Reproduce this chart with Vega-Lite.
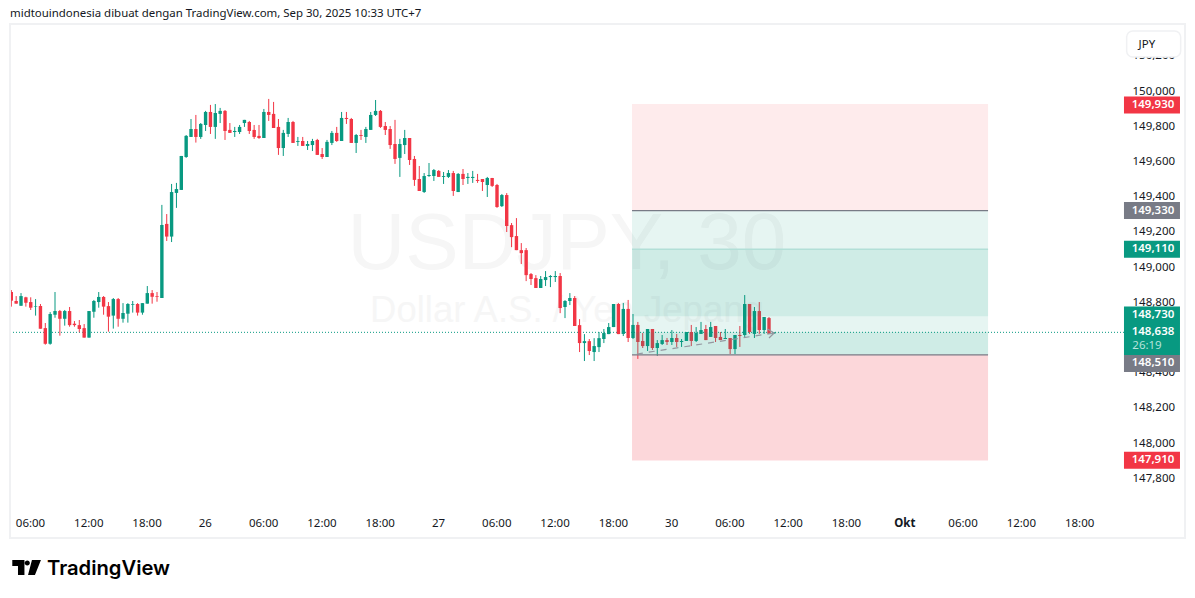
{
  "$schema": "https://vega.github.io/schema/vega-lite/v6.json",
  "width": 1114,
  "height": 486,
  "autosize": {"type": "none"},
  "padding": {"left": 10, "top": 25, "right": 71, "bottom": 87},
  "background": "#ffffff",
  "view": {"stroke": null},
  "title": {"text": "midtouindonesia dibuat dengan TradingView.com, Sep 30, 2025 10:33 UTC+7", "anchor": "start", "frame": "group", "offset": 3, "font": "Noto Sans", "fontSize": 11.45, "fontWeight": "normal", "color": "#131722"},
  "config": {
    "font": "Noto Sans",
    "scale": {"continuousPadding": 0},
    "axis": {"grid": false, "domain": false, "ticks": false, "title": null, "labelFontSize": 11.5, "labelColor": "#131722", "labelOverlap": false, "labelFlush": false, "labelFont": "Noto Sans"}
  },
  "datasets": {
    "candles": [
      {"i":1,"o":148.867,"h":148.878,"l":148.784,"c":148.818},
      {"i":2,"o":148.816,"h":148.844,"l":148.801,"c":148.801},
      {"i":3,"o":148.789,"h":148.861,"l":148.789,"c":148.844},
      {"i":4,"o":148.837,"h":148.840,"l":148.784,"c":148.806},
      {"i":5,"o":148.810,"h":148.837,"l":148.765,"c":148.778},
      {"i":6,"o":148.784,"h":148.827,"l":148.733,"c":148.787},
      {"i":7,"o":148.787,"h":148.799,"l":148.659,"c":148.659},
      {"i":8,"o":148.662,"h":148.691,"l":148.568,"c":148.573},
      {"i":9,"o":148.573,"h":148.753,"l":148.568,"c":148.742},
      {"i":10,"o":148.738,"h":148.867,"l":148.721,"c":148.759},
      {"i":11,"o":148.759,"h":148.765,"l":148.619,"c":148.715},
      {"i":12,"o":148.715,"h":148.765,"l":148.676,"c":148.759},
      {"i":13,"o":148.759,"h":148.782,"l":148.670,"c":148.679},
      {"i":14,"o":148.687,"h":148.702,"l":148.670,"c":148.679},
      {"i":15,"o":148.679,"h":148.708,"l":148.638,"c":148.657},
      {"i":16,"o":148.662,"h":148.685,"l":148.608,"c":148.608},
      {"i":17,"o":148.608,"h":148.759,"l":148.608,"c":148.759},
      {"i":18,"o":148.755,"h":148.822,"l":148.721,"c":148.816},
      {"i":19,"o":148.810,"h":148.867,"l":148.778,"c":148.839},
      {"i":20,"o":148.839,"h":148.844,"l":148.738,"c":148.784},
      {"i":21,"o":148.787,"h":148.810,"l":148.642,"c":148.727},
      {"i":22,"o":148.733,"h":148.833,"l":148.659,"c":148.827},
      {"i":23,"o":148.827,"h":148.833,"l":148.670,"c":148.715},
      {"i":24,"o":148.715,"h":148.804,"l":148.693,"c":148.748},
      {"i":25,"o":148.744,"h":148.804,"l":148.693,"c":148.799},
      {"i":26,"o":148.795,"h":148.816,"l":148.750,"c":148.799},
      {"i":27,"o":148.799,"h":148.804,"l":148.733,"c":148.750},
      {"i":28,"o":148.750,"h":148.804,"l":148.738,"c":148.804},
      {"i":29,"o":148.801,"h":148.901,"l":148.801,"c":148.861},
      {"i":30,"o":148.861,"h":148.878,"l":148.801,"c":148.840},
      {"i":31,"o":148.844,"h":148.867,"l":148.812,"c":148.840},
      {"i":32,"o":148.833,"h":149.362,"l":148.833,"c":149.248},
      {"i":33,"o":149.254,"h":149.310,"l":149.157,"c":149.182},
      {"i":34,"o":149.182,"h":149.481,"l":149.151,"c":149.435},
      {"i":35,"o":149.430,"h":149.487,"l":149.345,"c":149.452},
      {"i":36,"o":149.447,"h":149.640,"l":149.447,"c":149.640},
      {"i":37,"o":149.634,"h":149.759,"l":149.629,"c":149.754},
      {"i":38,"o":149.748,"h":149.850,"l":149.748,"c":149.793},
      {"i":39,"o":149.793,"h":149.873,"l":149.716,"c":149.748},
      {"i":40,"o":149.748,"h":149.827,"l":149.737,"c":149.822},
      {"i":41,"o":149.816,"h":149.896,"l":149.782,"c":149.890},
      {"i":42,"o":149.890,"h":149.930,"l":149.765,"c":149.805},
      {"i":43,"o":149.805,"h":149.935,"l":149.737,"c":149.884},
      {"i":44,"o":149.879,"h":149.913,"l":149.827,"c":149.896},
      {"i":45,"o":149.896,"h":149.901,"l":149.731,"c":149.782},
      {"i":46,"o":149.788,"h":149.827,"l":149.771,"c":149.771},
      {"i":47,"o":149.776,"h":149.805,"l":149.748,"c":149.782},
      {"i":48,"o":149.776,"h":149.816,"l":149.765,"c":149.805},
      {"i":49,"o":149.827,"h":149.845,"l":149.805,"c":149.845},
      {"i":50,"o":149.833,"h":149.839,"l":149.765,"c":149.782},
      {"i":51,"o":149.788,"h":149.816,"l":149.737,"c":149.748},
      {"i":52,"o":149.754,"h":149.816,"l":149.737,"c":149.742},
      {"i":53,"o":149.742,"h":149.907,"l":149.742,"c":149.890},
      {"i":54,"o":149.890,"h":149.964,"l":149.839,"c":149.873},
      {"i":55,"o":149.879,"h":149.947,"l":149.799,"c":149.799},
      {"i":56,"o":149.805,"h":149.850,"l":149.646,"c":149.685},
      {"i":57,"o":149.685,"h":149.788,"l":149.640,"c":149.771},
      {"i":58,"o":149.765,"h":149.856,"l":149.748,"c":149.833},
      {"i":59,"o":149.833,"h":149.839,"l":149.714,"c":149.714},
      {"i":60,"o":149.720,"h":149.748,"l":149.697,"c":149.725},
      {"i":61,"o":149.725,"h":149.748,"l":149.697,"c":149.697},
      {"i":62,"o":149.697,"h":149.725,"l":149.674,"c":149.708},
      {"i":63,"o":149.702,"h":149.737,"l":149.668,"c":149.725},
      {"i":64,"o":149.731,"h":149.737,"l":149.646,"c":149.646},
      {"i":65,"o":149.651,"h":149.685,"l":149.623,"c":149.634},
      {"i":66,"o":149.634,"h":149.731,"l":149.634,"c":149.720},
      {"i":67,"o":149.714,"h":149.782,"l":149.702,"c":149.771},
      {"i":68,"o":149.771,"h":149.805,"l":149.720,"c":149.725},
      {"i":69,"o":149.725,"h":149.890,"l":149.725,"c":149.856},
      {"i":70,"o":149.856,"h":149.890,"l":149.822,"c":149.850},
      {"i":71,"o":149.850,"h":149.856,"l":149.714,"c":149.714},
      {"i":72,"o":149.714,"h":149.765,"l":149.657,"c":149.759},
      {"i":73,"o":149.759,"h":149.788,"l":149.731,"c":149.754},
      {"i":74,"o":149.748,"h":149.805,"l":149.714,"c":149.793},
      {"i":75,"o":149.788,"h":149.890,"l":149.788,"c":149.873},
      {"i":76,"o":149.873,"h":149.958,"l":149.867,"c":149.896},
      {"i":77,"o":149.896,"h":149.901,"l":149.799,"c":149.805},
      {"i":78,"o":149.810,"h":149.833,"l":149.759,"c":149.788},
      {"i":79,"o":149.793,"h":149.810,"l":149.680,"c":149.702},
      {"i":80,"o":149.708,"h":149.845,"l":149.595,"c":149.623},
      {"i":81,"o":149.629,"h":149.737,"l":149.521,"c":149.708},
      {"i":82,"o":149.702,"h":149.788,"l":149.651,"c":149.742},
      {"i":83,"o":149.742,"h":149.742,"l":149.589,"c":149.617},
      {"i":84,"o":149.623,"h":149.640,"l":149.470,"c":149.504},
      {"i":85,"o":149.509,"h":149.583,"l":149.441,"c":149.441},
      {"i":86,"o":149.435,"h":149.543,"l":149.430,"c":149.526},
      {"i":87,"o":149.526,"h":149.600,"l":149.521,"c":149.532},
      {"i":88,"o":149.526,"h":149.566,"l":149.498,"c":149.560},
      {"i":89,"o":149.555,"h":149.560,"l":149.521,"c":149.521},
      {"i":90,"o":149.521,"h":149.549,"l":149.481,"c":149.526},
      {"i":91,"o":149.521,"h":149.560,"l":149.515,"c":149.543},
      {"i":92,"o":149.543,"h":149.555,"l":149.413,"c":149.441},
      {"i":93,"o":149.435,"h":149.543,"l":149.435,"c":149.538},
      {"i":94,"o":149.538,"h":149.566,"l":149.475,"c":149.509},
      {"i":95,"o":149.515,"h":149.543,"l":149.481,"c":149.521},
      {"i":96,"o":149.515,"h":149.555,"l":149.487,"c":149.521},
      {"i":97,"o":149.504,"h":149.538,"l":149.487,"c":149.498},
      {"i":98,"o":149.509,"h":149.509,"l":149.441,"c":149.492},
      {"i":99,"o":149.475,"h":149.521,"l":149.407,"c":149.515},
      {"i":100,"o":149.515,"h":149.515,"l":149.464,"c":149.470},
      {"i":101,"o":149.475,"h":149.481,"l":149.345,"c":149.350},
      {"i":102,"o":149.355,"h":149.424,"l":149.350,"c":149.418},
      {"i":103,"o":149.418,"h":149.429,"l":149.208,"c":149.242},
      {"i":104,"o":149.247,"h":149.259,"l":149.122,"c":149.179},
      {"i":105,"o":149.185,"h":149.287,"l":149.105,"c":149.105},
      {"i":106,"o":149.105,"h":149.145,"l":149.026,"c":149.088},
      {"i":107,"o":149.105,"h":149.117,"l":148.929,"c":148.963},
      {"i":108,"o":148.969,"h":148.975,"l":148.907,"c":148.941},
      {"i":109,"o":148.946,"h":148.963,"l":148.890,"c":148.890},
      {"i":110,"o":148.890,"h":148.958,"l":148.890,"c":148.941},
      {"i":111,"o":148.935,"h":148.986,"l":148.901,"c":148.952},
      {"i":112,"o":148.952,"h":148.963,"l":148.895,"c":148.958},
      {"i":113,"o":148.952,"h":148.986,"l":148.924,"c":148.958},
      {"i":114,"o":148.958,"h":148.975,"l":148.747,"c":148.776},
      {"i":115,"o":148.782,"h":148.821,"l":148.719,"c":148.816},
      {"i":116,"o":148.816,"h":148.861,"l":148.793,"c":148.833},
      {"i":117,"o":148.833,"h":148.844,"l":148.674,"c":148.674},
      {"i":118,"o":148.679,"h":148.713,"l":148.526,"c":148.577},
      {"i":119,"o":148.577,"h":148.628,"l":148.475,"c":148.588},
      {"i":120,"o":148.588,"h":148.600,"l":148.509,"c":148.532},
      {"i":121,"o":148.526,"h":148.605,"l":148.475,"c":148.560},
      {"i":122,"o":148.554,"h":148.640,"l":148.526,"c":148.605},
      {"i":123,"o":148.600,"h":148.657,"l":148.577,"c":148.634},
      {"i":124,"o":148.628,"h":148.691,"l":148.628,"c":148.668},
      {"i":125,"o":148.668,"h":148.799,"l":148.668,"c":148.799},
      {"i":126,"o":148.799,"h":148.804,"l":148.628,"c":148.628},
      {"i":127,"o":148.629,"h":148.805,"l":148.617,"c":148.771},
      {"i":128,"o":148.771,"h":148.822,"l":148.583,"c":148.606},
      {"i":129,"o":148.606,"h":148.742,"l":148.600,"c":148.680},
      {"i":130,"o":148.680,"h":148.697,"l":148.487,"c":148.583},
      {"i":131,"o":148.589,"h":148.634,"l":148.549,"c":148.560},
      {"i":132,"o":148.560,"h":148.657,"l":148.532,"c":148.657},
      {"i":133,"o":148.657,"h":148.657,"l":148.538,"c":148.549},
      {"i":134,"o":148.549,"h":148.594,"l":148.504,"c":148.577},
      {"i":135,"o":148.572,"h":148.623,"l":148.566,"c":148.594},
      {"i":136,"o":148.594,"h":148.606,"l":148.566,"c":148.583},
      {"i":137,"o":148.583,"h":148.651,"l":148.566,"c":148.606},
      {"i":138,"o":148.606,"h":148.629,"l":148.555,"c":148.583},
      {"i":139,"o":148.583,"h":148.600,"l":148.555,"c":148.589},
      {"i":140,"o":148.589,"h":148.640,"l":148.589,"c":148.640},
      {"i":141,"o":148.640,"h":148.680,"l":148.560,"c":148.589},
      {"i":142,"o":148.589,"h":148.668,"l":148.583,"c":148.634},
      {"i":143,"o":148.629,"h":148.697,"l":148.629,"c":148.651},
      {"i":144,"o":148.657,"h":148.680,"l":148.594,"c":148.594},
      {"i":145,"o":148.612,"h":148.697,"l":148.612,"c":148.668},
      {"i":146,"o":148.674,"h":148.674,"l":148.583,"c":148.606},
      {"i":147,"o":148.612,"h":148.640,"l":148.594,"c":148.594},
      {"i":148,"o":148.600,"h":148.657,"l":148.600,"c":148.606},
      {"i":149,"o":148.606,"h":148.606,"l":148.515,"c":148.543},
      {"i":150,"o":148.543,"h":148.623,"l":148.515,"c":148.623},
      {"i":151,"o":148.623,"h":148.674,"l":148.555,"c":148.617},
      {"i":152,"o":148.623,"h":148.850,"l":148.612,"c":148.799},
      {"i":153,"o":148.799,"h":148.799,"l":148.629,"c":148.640},
      {"i":154,"o":148.629,"h":148.782,"l":148.606,"c":148.759},
      {"i":155,"o":148.759,"h":148.810,"l":148.629,"c":148.651},
      {"i":156,"o":148.651,"h":148.725,"l":148.629,"c":148.725},
      {"i":157,"o":148.719,"h":148.725,"l":148.629,"c":148.629},
      {"i":158,"o":148.631,"h":148.640,"l":148.629,"c":148.638}
    ],
    "zones": [
      {"top":149.935,"bottom":149.33,"from":128.8,"to":202.1,"kind":"upper"},
      {"top":149.33,"bottom":148.51,"from":128.8,"to":202.1,"kind":"zone"},
      {"top":149.11,"bottom":148.73,"from":128.8,"to":202.1,"kind":"zone"},
      {"top":148.638,"bottom":148.51,"from":128.8,"to":202.1,"kind":"zone"},
      {"top":148.51,"bottom":147.91,"from":128.8,"to":202.1,"kind":"lower"}
    ],
    "levels": [
      {"price":149.33,"from":128.8,"to":202.1,"kind":"gray"},
      {"price":149.11,"from":128.8,"to":202.1,"kind":"pale"},
      {"price":148.51,"from":128.8,"to":202.1,"kind":"gray"}
    ],
    "tags": [
      {"label":"149,930","at":149.93,"kind":"red"},
      {"label":"149,330","at":149.33,"kind":"gray"},
      {"label":"149,110","at":149.11,"kind":"green"},
      {"label":"148,730","at":148.736,"kind":"green"},
      {"label":"148,510","at":148.461,"kind":"gray"},
      {"label":"147,910","at":147.912,"kind":"red"}
    ],
    "arrow": [
      {"i":156.7,"price":148.657},
      {"i":158.05,"price":148.634},
      {"i":157.0,"price":148.606}
    ]
  },
  "layer": [
    {
      "data": {"values": [{"i":115.4,"price":149.134,"label":"USDJPY, 30"}]},
      "mark": {"type":"text","font":"Liberation Sans","fontSize":80,"color":"#f6f6f6","baseline":"middle","align":"center"},
      "encoding": {
        "x": {"field":"i","type":"quantitative","scale":{"domain":[0.732,230.09]},"title":null,
          "axis":{"values":[4.85,16.85,28.85,40.85,52.85,64.85,76.85,88.85,100.85,112.85,124.85,136.85,148.85,160.85,172.85,184.85,196.85,208.85,220.85],
            "labelExpr":"['06:00','12:00','18:00','26','06:00','12:00','18:00','27','06:00','12:00','18:00','30','06:00','12:00','18:00','Okt','06:00','12:00','18:00'][round((datum.value-4.85)/12)]",
            "labelFontWeight":{"condition":{"test":"round(datum.value)==185","value":"bold"},"value":"normal"},
            "labelPadding":6.5}},
        "y": {"field":"price","type":"quantitative","scale":{"domain":[147.623,150.384]},"title":null,
          "axis":{"orient":"right","values":[147.8,148,148.2,148.4,148.6,148.8,149,149.2,149.4,149.6,149.8,150,150.2],
            "labelExpr":"format(datum.value*1000,',.0f')",
            "labelOffset":-1.5,
            "labelPadding":8}},
        "text": {"field":"label"}
      }
    },
    {
      "data": {"values": [{"i":115.4,"price":148.76,"label":"Dollar A.S. / Yen Jepang"}]},
      "mark": {"type":"text","font":"Liberation Sans","fontSize":36.5,"color":"#f6f6f6","baseline":"middle","align":"center"},
      "encoding": {
        "x": {"field":"i","type":"quantitative","scale":{"domain":[0.732,230.09]},"title":null},
        "y": {"field":"price","type":"quantitative","scale":{"domain":[147.623,150.384]},"title":null},
        "text": {"field":"label"}
      }
    },
    {
      "data": {"values": [{"price":148.638}]},
      "mark": {"type":"rule","stroke":"#089981","strokeWidth":1,"strokeDash":[1,2]},
      "encoding": {
        "y": {"field":"price","type":"quantitative","scale":{"domain":[147.623,150.384]},"title":null}
      }
    },
    {
      "data": {"name":"candles"},
      "mark": {"type":"rule","strokeWidth":1},
      "encoding": {
        "x": {"field":"i","type":"quantitative","scale":{"domain":[0.732,230.09]},"title":null},
        "y": {"field":"l","type":"quantitative","scale":{"domain":[147.623,150.384]},"title":null},
        "y2": {"field":"h"},
        "color": {"condition":{"test":"datum.c>=datum.o","value":"#089981"},"value":"#f23645"}
      }
    },
    {
      "data": {"name":"candles"},
      "mark": {"type":"bar","width":3.4},
      "encoding": {
        "x": {"field":"i","type":"quantitative","scale":{"domain":[0.732,230.09]},"title":null},
        "y": {"field":"o","type":"quantitative","scale":{"domain":[147.623,150.384]},"title":null},
        "y2": {"field":"c"},
        "color": {"condition":{"test":"datum.c>=datum.o","value":"#089981"},"value":"#f23645"}
      }
    },
    {
      "data": {"name":"zones"},
      "mark": {"type":"rect"},
      "encoding": {
        "x": {"field":"from","type":"quantitative","scale":{"domain":[0.732,230.09]},"title":null},
        "x2": {"field":"to"},
        "y": {"field":"top","type":"quantitative","scale":{"domain":[147.623,150.384]},"title":null},
        "y2": {"field":"bottom"},
        "color": {"field":"kind","type":"nominal","legend":null,"scale":{"domain":["upper","zone","lower","red","gray","green"],"range":["rgba(242,54,69,0.1)","rgba(8,153,129,0.1)","rgba(242,54,69,0.2)","#f23645","#787b86","#089981"]}}
      }
    },
    {
      "data": {"name":"levels"},
      "mark": {"type":"rule","strokeWidth":1.3},
      "encoding": {
        "x": {"field":"from","type":"quantitative","scale":{"domain":[0.732,230.09]},"title":null},
        "x2": {"field":"to"},
        "y": {"field":"price","type":"quantitative","scale":{"domain":[147.623,150.384]},"title":null},
        "stroke": {"field":"kind","type":"nominal","legend":null,"scale":{"domain":["gray","pale"],"range":["#787b86","#b2dfd7"]}}
      }
    },
    {
      "data": {"values": [{"i":129.8,"price":148.515},{"i":158,"price":148.634}]},
      "mark": {"type":"line","stroke":"#9598a1","strokeWidth":1.2,"strokeDash":[6,6]},
      "encoding": {
        "x": {"field":"i","type":"quantitative","scale":{"domain":[0.732,230.09]},"title":null},
        "y": {"field":"price","type":"quantitative","scale":{"domain":[147.623,150.384]},"title":null}
      }
    },
    {
      "data": {"name":"arrow"},
      "mark": {"type":"line","stroke":"#9598a1","strokeWidth":1.2},
      "encoding": {
        "x": {"field":"i","type":"quantitative","scale":{"domain":[0.732,230.09]},"title":null},
        "y": {"field":"price","type":"quantitative","scale":{"domain":[147.623,150.384]},"title":null},
        "order": {"field":"price","sort":"descending"}
      }
    },
    {
      "data": {"name":"tags"},
      "mark": {"type":"rect","width":56,"height":17},
      "encoding": {
        "x": {"datum":235.85,"type":"quantitative","scale":{"domain":[0.732,230.09]},"title":null},
        "y": {"field":"at","type":"quantitative","scale":{"domain":[147.623,150.384]},"title":null},
        "color": {"field":"kind","type":"nominal","legend":null,"scale":{"domain":["upper","zone","lower","red","gray","green"],"range":["rgba(242,54,69,0.1)","rgba(8,153,129,0.1)","rgba(242,54,69,0.2)","#f23645","#787b86","#089981"]}}
      }
    },
    {
      "data": {"values": [{"at":148.6,"label":"148,638"}]},
      "mark": {"type":"rect","width":56,"height":32,"color":"#089981"},
      "encoding": {
        "x": {"datum":235.85,"type":"quantitative","scale":{"domain":[0.732,230.09]},"title":null},
        "y": {"field":"at","type":"quantitative","scale":{"domain":[147.623,150.384]},"title":null}
      }
    },
    {
      "data": {"name":"tags"},
      "mark": {"type":"text","fontSize":11.5,"fontWeight":600,"color":"#ffffff","baseline":"middle","align":"center","font":"Noto Sans"},
      "encoding": {
        "x": {"datum":236.06,"type":"quantitative","scale":{"domain":[0.732,230.09]},"title":null},
        "y": {"field":"at","type":"quantitative","scale":{"domain":[147.623,150.384]},"title":null},
        "text": {"field":"label"}
      }
    },
    {
      "data": {"values": [{"at":148.641,"label":"148,638"}]},
      "mark": {"type":"text","fontSize":11.5,"fontWeight":600,"color":"#ffffff","baseline":"middle","align":"center","font":"Noto Sans"},
      "encoding": {
        "x": {"datum":236.06,"type":"quantitative","scale":{"domain":[0.732,230.09]},"title":null},
        "y": {"field":"at","type":"quantitative","scale":{"domain":[147.623,150.384]},"title":null},
        "text": {"field":"label"}
      }
    },
    {
      "data": {"values": [{"at":148.56,"label":"26:19"}]},
      "mark": {"type":"text","fontSize":11.5,"color":"#b5e3db","baseline":"middle","align":"left","font":"Noto Sans"},
      "encoding": {
        "x": {"datum":231.8,"type":"quantitative","scale":{"domain":[0.732,230.09]},"title":null},
        "y": {"field":"at","type":"quantitative","scale":{"domain":[147.623,150.384]},"title":null},
        "text": {"field":"label"}
      }
    },
    {
      "data": {"values": [{"at":150.276,"label":"JPY"}]},
      "mark": {"type":"rect","width":54,"height":26,"fill":"#ffffff","stroke":"#f0f1f3","strokeWidth":1.5,"cornerRadius":6},
      "encoding": {
        "x": {"datum":236.2,"type":"quantitative","scale":{"domain":[0.732,230.09]},"title":null},
        "y": {"field":"at","type":"quantitative","scale":{"domain":[147.623,150.384]},"title":null}
      }
    },
    {
      "data": {"values": [{"at":150.27,"label":"JPY"}]},
      "mark": {"type":"text","fontSize":11.5,"color":"#131722","baseline":"middle","align":"center","font":"Noto Sans"},
      "encoding": {
        "x": {"datum":234.8,"type":"quantitative","scale":{"domain":[0.732,230.09]},"title":null},
        "y": {"field":"at","type":"quantitative","scale":{"domain":[147.623,150.384]},"title":null},
        "text": {"field":"label"}
      }
    },
    {
      "data": {"values": [{"left":0.732,"right":242.65,"top":150.39,"bottom":147.469}]},
      "mark": {"type":"rect","fill":null,"stroke":"#f0f1f3","strokeWidth":2},
      "encoding": {
        "x": {"field":"left","type":"quantitative","scale":{"domain":[0.732,230.09]},"title":null},
        "x2": {"field":"right"},
        "y": {"field":"top","type":"quantitative","scale":{"domain":[147.623,150.384]},"title":null},
        "y2": {"field":"bottom"}
      }
    },
    {
      "data": {"values": [{"i":4.23,"at":147.302}]},
      "mark": {"type":"point","filled":true,"opacity":1,"color":"#000000","strokeWidth":0,"size":900,"shape":"M-.98 -.5H-.17V.5H-.6V-.1H-.98Z M-.15 -.3a.17 .17 0 1 0 .34 0a.17 .17 0 1 0 -.34 0Z M.33 -.5H.93L.53 .5H.07Z"},
      "encoding": {
        "x": {"field":"i","type":"quantitative","scale":{"domain":[0.732,230.09]},"title":null},
        "y": {"field":"at","type":"quantitative","scale":{"domain":[147.623,150.384]},"title":null}
      }
    },
    {
      "data": {"values": [{"i":8.35,"at":147.294,"label":"TradingView"}]},
      "mark": {"type":"text","font":"Inter","fontSize":20.2,"fontWeight":600,"color":"#000000","baseline":"middle","align":"left"},
      "encoding": {
        "x": {"field":"i","type":"quantitative","scale":{"domain":[0.732,230.09]},"title":null},
        "y": {"field":"at","type":"quantitative","scale":{"domain":[147.623,150.384]},"title":null},
        "text": {"field":"label"}
      }
    }
  ]
}
